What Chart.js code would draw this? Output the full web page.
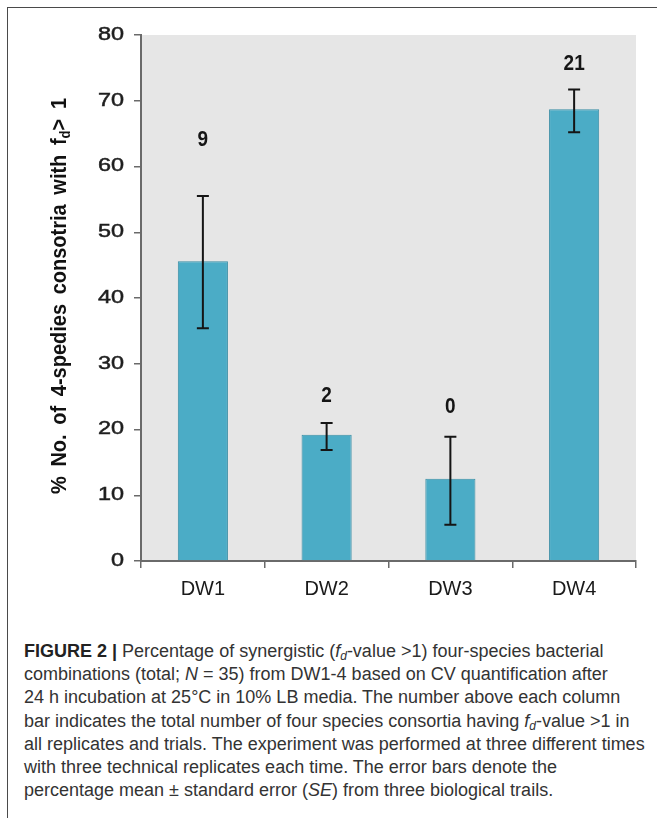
<!DOCTYPE html>
<html>
<head>
<meta charset="utf-8">
<script src="https://cdn.jsdelivr.net/npm/chart.js@4.4.1/dist/chart.umd.min.js"></script>
<style>
  html, body { margin: 0; padding: 0; background: #fff; }
  body { width: 657px; height: 818px; position: relative; overflow: hidden; }
  #frame {
    position: absolute; left: 7px; top: 7px; width: 660px; height: 820px;
    border-left: 1.5px solid #4a4a4a; border-top: 1.5px solid #4a4a4a;
  }
  #chartBox { position: absolute; left: 0; top: 0; width: 657px; height: 600px; }
  #caption {
    position: absolute; left: 24px; top: 640px; width: 640px;
    font-family: "Liberation Sans", Arial, sans-serif; font-size: 18px;
    line-height: 23.2px; color: #333; white-space: nowrap;
  }
  #caption b { color: #222; }
  #caption sub { font-size: 12px; line-height: 0; vertical-align: -3px; }
</style>
</head>
<body>
<div id="frame"></div>
<div id="chartBox"><canvas id="fig2" width="657" height="600"></canvas></div>
<div id="caption">
<b>FIGURE 2 |</b> Percentage of synergistic (<i>f<sub>d</sub></i>-value &gt;1) four-species bacterial<br>
combinations (total; <i>N</i> = 35) from DW1-4 based on CV quantification after<br>
24 h incubation at 25°C in 10% LB media. The number above each column<br>
bar indicates the total number of four species consortia having <i>f<sub>d</sub></i>-value &gt;1 in<br>
all replicates and trials. The experiment was performed at three different times<br>
with three technical replicates each time. The error bars denote the<br>
percentage mean ± standard error (<i>SE</i>) from three biological trails.
</div>
<script>
// data
const categories = ['DW1', 'DW2', 'DW3', 'DW4'];
const meanPct = [45.6, 19.2, 12.5, 68.7];
const errLow = [35.4, 16.9, 5.5, 65.2];
const errHigh = [55.5, 21.0, 18.9, 71.7];
const countLabels = ['9', '2', '0', '21'];
const countLabelY = [64.0, 25.2, 23.4, 75.7];
const yTicks = [0, 10, 20, 30, 40, 50, 60, 70, 80];

const axisColor = '#6a6a6a';

// grey plot background
const plotBg = {
    id: 'plotBg',
    beforeDraw(chart) {
        const a = chart.chartArea;
        const ctx = chart.ctx;
        ctx.save();
        ctx.fillStyle = '#e6e6e6';
        ctx.fillRect(a.left, a.top, a.right - a.left, a.bottom - a.top);
        ctx.restore();
    }
};

// error bars + count numbers above the columns
const errorBars = {
    id: 'errorBars',
    afterDatasetsDraw(chart) {
        const ctx = chart.ctx;
        const y = chart.scales.y;
        const meta = chart.getDatasetMeta(0);
        ctx.save();
        ctx.strokeStyle = '#151515';
        ctx.lineWidth = 2;
        meta.data.forEach((bar, i) => {
            const top = y.getPixelForValue(errHigh[i]);
            const bot = y.getPixelForValue(errLow[i]);
            ctx.beginPath();
            ctx.moveTo(bar.x, top); ctx.lineTo(bar.x, bot);
            ctx.moveTo(bar.x - 6, top); ctx.lineTo(bar.x + 6, top);
            ctx.moveTo(bar.x - 6, bot); ctx.lineTo(bar.x + 6, bot);
            ctx.stroke();

            ctx.save();
            ctx.translate(bar.x, y.getPixelForValue(countLabelY[i]));
            ctx.scale(1, 1.2);
            ctx.fillStyle = '#151515';
            ctx.font = 'bold 19px "Liberation Sans", Arial, sans-serif';
            ctx.textAlign = 'center';
            ctx.textBaseline = 'middle';
            ctx.fillText(countLabels[i], 0, 0);
            ctx.restore();
        });
        ctx.restore();
    }
};

// y tick numbers (wide, like the original) and the rotated axis title
const yLabels = {
    id: 'yLabels',
    afterDraw(chart) {
        const ctx = chart.ctx;
        const y = chart.scales.y;
        ctx.save();
        ctx.fillStyle = '#1e1e1e';
        ctx.font = '18px "Liberation Sans", Arial, sans-serif';
        ctx.textAlign = 'right';
        ctx.textBaseline = 'middle';
        ctx.lineWidth = 0.5;
        ctx.strokeStyle = '#1e1e1e';
        yTicks.forEach(v => {
            ctx.save();
            ctx.translate(124, y.getPixelForValue(v));
            ctx.scale(1.3, 1);
            ctx.fillText(String(v), 0, 0);
            ctx.strokeText(String(v), 0, 0);
            ctx.restore();
        });
        ctx.restore();

        // title: "% No. of 4-spedies consotria with f_d> 1"
        const mainFont = 'bold 20px "Liberation Sans", Arial, sans-serif';
        const subFont = 'bold 13px "Liberation Sans", Arial, sans-serif';
        const words = ['%', 'No.', 'of', '4-spedies', 'consotria', 'with', 'f', '1'];
        const targetLen = 396;
        ctx.save();
        ctx.font = mainFont;
        let natural = 0;
        words.forEach(w => { natural += ctx.measureText(w).width; });
        ctx.font = subFont;
        const subW = ctx.measureText('d').width;
        ctx.font = mainFont;
        const gtW = ctx.measureText('>').width;
        natural += subW + gtW;
        const gap = (targetLen - natural) / (words.length - 1);

        ctx.translate(66, 296 + targetLen / 2);
        ctx.rotate(-Math.PI / 2);
        ctx.scale(1, 1.08);
        ctx.fillStyle = '#111';
        ctx.textAlign = 'left';
        ctx.textBaseline = 'alphabetic';
        let pos = 0;
        words.forEach((w, i) => {
            ctx.font = mainFont;
            ctx.fillText(w, pos, 0);
            pos += ctx.measureText(w).width;
            if (w === 'f') {
                ctx.font = subFont;
                ctx.fillText('d', pos, 4);
                pos += subW;
                ctx.font = mainFont;
                ctx.fillText('>', pos, 0);
                pos += gtW;
            }
            if (i < words.length - 1) pos += gap;
        });
        ctx.restore();
    }
};

new Chart(document.getElementById('fig2'), {
    type: 'bar',
    data: {
        labels: categories,
        datasets: [{
            data: meanPct,
            backgroundColor: '#4bacc6',
            borderColor: '#3a8ea5',
            borderWidth: 1,
            barPercentage: 0.405,
            categoryPercentage: 1.0
        }]
    },
    options: {
        responsive: false,
        animation: false,
        devicePixelRatio: 1,
        layout: { padding: { top: 35, right: 21, left: 0, bottom: 0 } },
        plugins: {
            legend: { display: false },
            tooltip: { enabled: false }
        },
        scales: {
            x: {
                grid: {
                    drawOnChartArea: false,
                    offset: true,
                    tickLength: 7,
                    color: axisColor,
                    lineWidth: 1.5
                },
                border: { color: axisColor, width: 2 },
                ticks: {
                    color: '#1a1a1a',
                    padding: 9,
                    font: { family: '"Liberation Sans", Arial, sans-serif', size: 20 }
                },
                afterFit(scale) { scale.height = 39; }
            },
            y: {
                min: 0,
                max: 80,
                grid: {
                    drawOnChartArea: false,
                    tickLength: 7,
                    color: axisColor,
                    lineWidth: 1.5
                },
                border: { color: axisColor, width: 2 },
                ticks: {
                    stepSize: 10,
                    color: 'rgba(0,0,0,0)',
                    font: { size: 17 }
                },
                afterFit(scale) { scale.width = 141; }
            }
        }
    },
    plugins: [plotBg, errorBars, yLabels]
});
</script>
</body>
</html>
